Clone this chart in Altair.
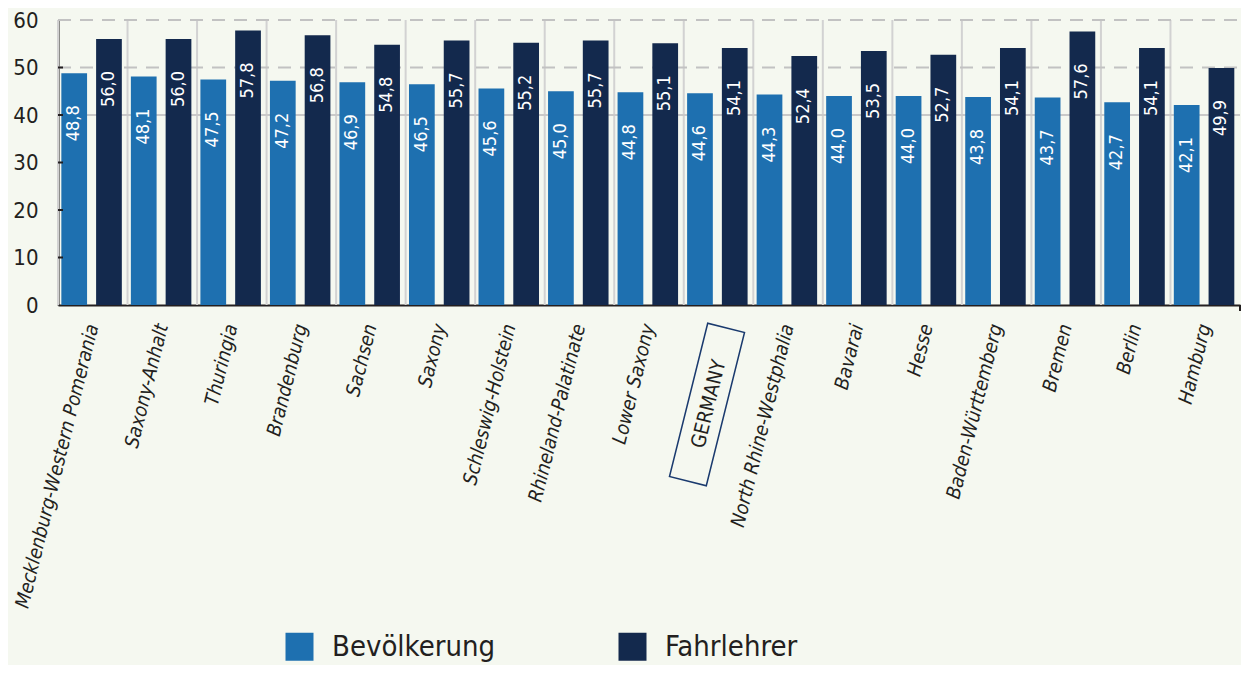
import altair as alt
import pandas as pd

states = ["Mecklenburg-Western Pomerania", "Saxony-Anhalt", "Thuringia", "Brandenburg",
          "Sachsen", "Saxony", "Schleswig-Holstein", "Rhineland-Palatinate", "Lower Saxony",
          "GERMANY", "North Rhine-Westphalia", "Bavarai", "Hesse", "Baden-Württemberg",
          "Bremen", "Berlin", "Hamburg"]
bevoelkerung = [48.8, 48.1, 47.5, 47.2, 46.9, 46.5, 45.6, 45.0, 44.8, 44.6, 44.3, 44.0, 44.0, 43.8, 43.7, 42.7, 42.1]
fahrlehrer = [56.0, 56.0, 57.8, 56.8, 54.8, 55.7, 55.2, 55.7, 55.1, 54.1, 52.4, 53.5, 52.7, 54.1, 57.6, 54.1, 49.9]
series = ["Bevölkerung", "Fahrlehrer"]
y_ticks = [0, 10, 20, 30, 40, 50, 60]
dashed_grid = [50, 60]
solid_grid = [40]
inner_ticks = [10, 20, 30, 40, 50]

rows = []
for s, b, f in zip(states, bevoelkerung, fahrlehrer):
    rows.append({"state": s, "series": series[0], "value": b})
    rows.append({"state": s, "series": series[1], "value": f})
df = pd.DataFrame(rows)
df_states = pd.DataFrame({"state": states})

BLUE = "#1e70b0"
NAVY = "#13294d"
BG = "#f5f8f0"
TXT = "#231f20"
FONT = "DejaVu Sans Condensed, Roboto, sans-serif"

W, H = 1182, 285

x_scale = alt.Scale(domain=states, paddingInner=0, paddingOuter=0)
x_axis = alt.Axis(title=None, labelAngle=284, labelFontSize=19.5, labelFont=FONT,
                  labelFontStyle="italic", labelColor=TXT, labelPadding=19,
                  ticks=False,
                  domain=True, domainColor=TXT, domainWidth=2, labelLimit=500,
                  labelOverlap=False, labelBound=False, grid=False,
                  labelExpr="datum.value == 'GERMANY' ? '' : datum.value")
y_scale = alt.Scale(domain=[0, 60], nice=False, zero=True)
y_axis = alt.Axis(title=None, values=y_ticks, grid=False, ticks=False, labelFontSize=22,
                  labelFont=FONT, labelColor=TXT, labelPadding=20, domainColor=TXT,
                  domainWidth=2)

def X(**kw):
    return alt.X("state:N", scale=x_scale, sort=states, axis=x_axis, **kw)

xoff = alt.XOffset("series:N", scale=alt.Scale(domain=series, paddingInner=0.26,
                                                paddingOuter=0.13, align=0.37))

vgrid = alt.Chart(df_states).mark_rule(color="#d2d2d2", strokeWidth=2).encode(
    x=X(bandPosition=0), y=alt.value(0), y2=alt.value(H))

hgrid_d = alt.Chart(pd.DataFrame({"v": dashed_grid})).mark_rule(
    color="#c2c2c2", strokeWidth=2, strokeDash=[13, 9]).encode(
    y=alt.Y("v:Q", scale=y_scale, axis=y_axis), x=alt.value(0), x2=alt.value(W))

hgrid_s = alt.Chart(pd.DataFrame({"v": solid_grid})).mark_rule(
    color="#c9c9c9", strokeWidth=2).encode(
    y=alt.Y("v:Q", scale=y_scale, axis=y_axis), x=alt.value(0), x2=alt.value(W))

bars = alt.Chart(df).mark_bar().encode(
    x=X(),
    xOffset=xoff,
    y=alt.Y("value:Q", scale=y_scale, axis=y_axis),
    color=alt.Color("series:N", scale=alt.Scale(domain=series, range=[BLUE, NAVY]),
                    legend=alt.Legend(orient="none", legendX=227, legendY=612,
                                      direction="horizontal", title=None,
                                      symbolType="square", symbolSize=784,
                                      symbolStrokeWidth=0, labelFontSize=29,
                                      labelFont=FONT, labelColor=TXT,
                                      columnPadding=122, labelOffset=18, padding=0,
                                      labelLimit=400)),
)

labels = alt.Chart(df).transform_calculate(
    lab="replace(format(datum.value, '.1f'), '.', ',')"
).mark_text(angle=270, align="right", baseline="middle", dx=-32, color="white",
            fontSize=18, font=FONT).encode(
    x=X(), xOffset=xoff,
    y=alt.Y("value:Q", scale=y_scale, axis=y_axis),
    text="lab:N")

ticks = alt.Chart(pd.DataFrame({"v": inner_ticks})).mark_rule(color=TXT, strokeWidth=2).encode(
    y=alt.Y("v:Q", scale=y_scale, axis=y_axis), x=alt.value(0), x2=alt.value(5))

end_tick = alt.Chart(pd.DataFrame({"v": [0]})).mark_rule(color=TXT, strokeWidth=2).encode(
    x=alt.value(W), y=alt.value(H), y2=alt.value(H + 6))

box_path = "M-1,-0.24L1,-0.24L1,0.24L-1,0.24Z"
germ = pd.DataFrame({"label": ["GERMANY"]})
box = alt.Chart(germ).mark_point(shape=box_path, filled=False, angle=284, size=24964,
                                 stroke="#1a3a6e", strokeWidth=1.5, opacity=1).encode(
    x=alt.value(649), y=alt.value(384.5))
germ_text = alt.Chart(germ).mark_text(angle=284, align="center", baseline="middle",
                                      fontSize=20, font=FONT, color=TXT).encode(
    x=alt.value(651), y=alt.value(384), text="label:N")

chart = alt.layer(vgrid, hgrid_s, hgrid_d, bars, labels, ticks, end_tick, box, germ_text).properties(
    width=W, height=H,
    padding={"left": 50, "top": 12, "right": 1, "bottom": 360},
    autosize=alt.AutoSizeParams(type="none"),
).configure(background=BG).configure_view(stroke=None)

chart.save("out.html", embed_options={"renderer": "svg", "actions": False})
